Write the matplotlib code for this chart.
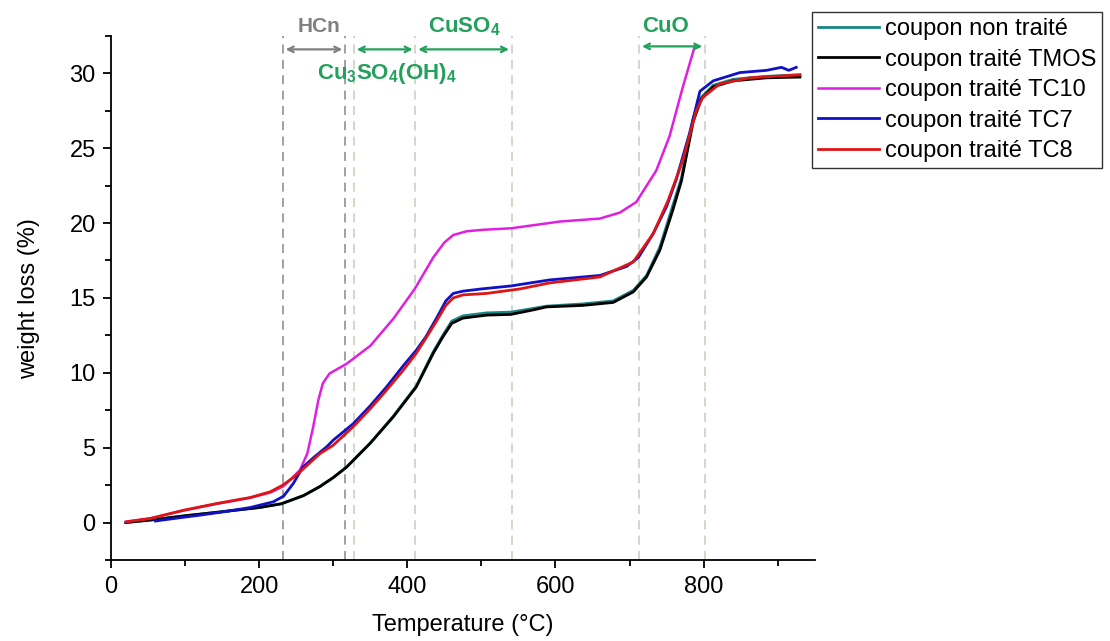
import numpy as np
import matplotlib.pyplot as plt
from matplotlib.ticker import MultipleLocator

plt.rcParams['font.family'] = ['Liberation Sans', 'DejaVu Sans']
plt.rcParams['mathtext.fontset'] = 'custom'
plt.rcParams['mathtext.rm'] = 'Liberation Sans'
plt.rcParams['mathtext.bf'] = 'Liberation Sans:bold'

# data (temperature in °C, weight loss in %)
T_nt = [20, 60, 100, 150, 200, 230, 260, 282, 300, 318, 336, 350, 381, 412, 435, 448, 460, 475, 507, 540, 570, 588, 637, 678, 705, 723, 741, 758, 770, 786, 797, 813, 840, 885, 930]
W_nt = [0, 0.2, 0.45, 0.72, 1.0, 1.25, 1.8, 2.4, 3.0, 3.7, 4.6, 5.3, 7.1, 9.1, 11.4, 12.5, 13.45, 13.8, 14.0, 14.05, 14.3, 14.45, 14.6, 14.8, 15.5, 16.5, 18.4, 21.1, 23.0, 27.0, 28.4, 29.2, 29.6, 29.8, 29.9]

T_tmos = T_nt
W_tmos = [0, 0.2, 0.45, 0.72, 1.0, 1.25, 1.8, 2.4, 3.0, 3.7, 4.6, 5.3, 7.05, 9.05, 11.3, 12.4, 13.3, 13.65, 13.85, 13.9, 14.2, 14.4, 14.5, 14.7, 15.4, 16.4, 18.2, 20.8, 22.8, 26.8, 28.3, 29.1, 29.5, 29.7, 29.75]

T_tc10 = [20, 53, 98, 143, 188, 215, 232, 243, 255, 265, 273, 280, 286, 295, 318, 350, 381, 410, 435, 450, 462, 480, 502, 540, 606, 660, 687, 709, 736, 754, 772, 788]
W_tc10 = [0.05, 0.27, 0.8, 1.25, 1.65, 2.0, 2.4, 2.9, 3.5, 4.6, 6.4, 8.2, 9.3, 9.95, 10.6, 11.8, 13.6, 15.6, 17.7, 18.7, 19.2, 19.45, 19.55, 19.65, 20.1, 20.3, 20.7, 21.4, 23.5, 25.8, 29.1, 31.8]

T_tc7 = [60, 90, 120, 150, 188, 219, 233, 246, 259, 275, 291, 300, 327, 350, 372, 395, 412, 425, 440, 452, 462, 475, 500, 540, 592, 660, 696, 712, 732, 750, 763, 781, 795, 813, 849, 885, 905, 915, 925]
W_tc7 = [0.1, 0.3, 0.49, 0.7, 1.0, 1.38, 1.76, 2.6, 3.7, 4.4, 5.05, 5.5, 6.6, 7.8, 9.06, 10.5, 11.5, 12.4, 13.7, 14.8, 15.3, 15.45, 15.6, 15.8, 16.2, 16.5, 17.1, 17.7, 19.3, 21.1, 22.9, 26.0, 28.8, 29.5, 30.05, 30.2, 30.4, 30.2, 30.4]

T_tc8 = [21, 53, 98, 143, 188, 215, 232, 246, 260, 282, 300, 327, 350, 372, 395, 412, 425, 440, 452, 462, 475, 507, 552, 592, 660, 705, 732, 752, 772, 790, 799, 822, 862, 930]
W_tc8 = [0.05, 0.27, 0.82, 1.27, 1.67, 2.05, 2.5, 3.0, 3.6, 4.6, 5.16, 6.4, 7.6, 8.84, 10.2, 11.3, 12.3, 13.5, 14.5, 15.0, 15.2, 15.3, 15.6, 16.0, 16.4, 17.4, 19.3, 21.5, 24.2, 27.5, 28.4, 29.3, 29.7, 29.9]

# decomposition zones
gray_lines = [232, 316]
green_lines = [328, 411, 541, 713, 802]

fig = plt.figure(figsize=(11.1, 6.41), dpi=100)
ax = fig.add_axes([0.1, 0.126, 0.634, 0.818])

for x in gray_lines:
    ax.axvline(x, color='#9a9a9a', lw=1.3, ls=(0, (5, 3.5)), zorder=1)
for x in green_lines:
    ax.axvline(x, color='#cfd6c4', lw=1.3, ls=(0, (5, 3.5)), zorder=1)

ax.plot(T_nt, W_nt, color='#1a8585', lw=2, label='coupon non traité')
ax.plot(T_tmos, W_tmos, color='black', lw=2, label='coupon traité TMOS')
ax.plot(T_tc10, W_tc10, color='#e020e0', lw=1.8, label='coupon traité TC10')
ax.plot(T_tc7, W_tc7, color='#1010c8', lw=2, label='coupon traité TC7')
ax.plot(T_tc8, W_tc8, color='#dd1515', lw=2, label='coupon traité TC8')

# arrows and labels
green = '#22a05c'
ax.annotate('', xy=(232, 31.6), xytext=(316, 31.6),
            arrowprops=dict(arrowstyle='<->', color='#808080', lw=1.6))
ax.annotate('', xy=(328, 31.6), xytext=(411, 31.6),
            arrowprops=dict(arrowstyle='<->', color=green, lw=1.6))
ax.annotate('', xy=(411, 31.6), xytext=(541, 31.6),
            arrowprops=dict(arrowstyle='<->', color=green, lw=1.6))
ax.annotate('', xy=(713, 31.8), xytext=(802, 31.8),
            arrowprops=dict(arrowstyle='<->', color=green, lw=1.6))

ax.text(281, 33.1, 'HCn', color='#808080', fontsize=15, fontweight='bold', ha='center', va='center')
ax.text(477, 33.1, 'CuSO$_\\mathbf{4}$', color=green, fontsize=16, fontweight='bold', ha='center', va='center')
ax.text(372, 30.0, 'Cu$_\\mathbf{3}$SO$_\\mathbf{4}$(OH)$_\\mathbf{4}$', color=green, fontsize=16, fontweight='bold', ha='center', va='center')
ax.text(748, 33.1, 'CuO', color=green, fontsize=16, fontweight='bold', ha='center', va='center')

ax.set_xlim(0, 950)
ax.set_ylim(-2.52, 32.5)
ax.xaxis.set_major_locator(MultipleLocator(200))
ax.xaxis.set_minor_locator(MultipleLocator(100))
ax.yaxis.set_major_locator(MultipleLocator(5))
ax.yaxis.set_minor_locator(MultipleLocator(2.5))
ax.tick_params(which='major', direction='out', length=6, width=1.3, labelsize=17, pad=5)
ax.tick_params(which='minor', direction='out', length=4, width=1.3)
ax.spines['top'].set_visible(False)
ax.spines['right'].set_visible(False)
ax.spines['left'].set_linewidth(1.3)
ax.spines['bottom'].set_linewidth(1.3)

ax.set_xlabel('Temperature (°C)', fontsize=17, labelpad=12)
ax.set_ylabel('weight loss (%)', fontsize=17, labelpad=21)

leg = fig.legend(loc='upper left', bbox_to_anchor=(0.7315, 0.981), fontsize=17,
                 frameon=True, fancybox=False, handlelength=2.6, handletextpad=0.25,
                 labelspacing=0.36, borderpad=0.25, borderaxespad=0)
leg.get_frame().set_edgecolor('black')
leg.get_frame().set_linewidth(1)

fig.savefig('out.png', dpi=100)
